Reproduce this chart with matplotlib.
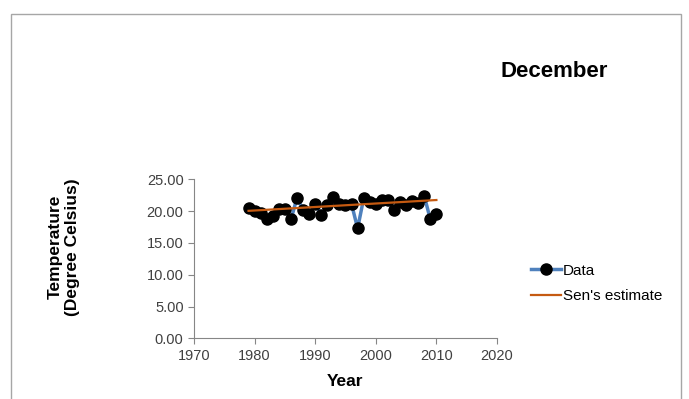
import matplotlib
matplotlib.use('Agg')
from matplotlib import pyplot as plt
from matplotlib.patches import Rectangle

plt.rcParams['font.family'] = ['Liberation Sans', 'DejaVu Sans']

# December mean temperature per year
years = [1979, 1980, 1981, 1982, 1983, 1984, 1985, 1986, 1987, 1988, 1989,
         1990, 1991, 1992, 1993, 1994, 1995, 1996, 1997, 1998, 1999, 2000,
         2001, 2002, 2003, 2004, 2005, 2006, 2007, 2008, 2009, 2010]
temps = [20.5, 20.1, 19.7, 18.7, 19.2, 20.4, 20.4, 18.7, 22.1, 20.2, 19.5,
         21.2, 19.4, 21.0, 22.2, 21.1, 20.9, 21.1, 17.3, 22.0, 21.5, 21.2,
         21.8, 21.7, 20.2, 21.5, 20.9, 21.6, 21.3, 22.4, 18.7, 19.5]

# Sen's slope trend line end points
sen_years = [1979, 2010]
sen_values = [20.05, 21.75]

x_ticks = [1970, 1980, 1990, 2000, 2010, 2020]
y_ticks = [0, 5, 10, 15, 20, 25]

fig = plt.figure(figsize=(6.89, 3.99), dpi=100)
ax = fig.add_axes([0.2816, 0.152, 0.4397, 0.3985])

# grey chart-area border
fig.patches.append(Rectangle((11 / 689, -0.1), 670 / 689, 1.1 - 14 / 399,
                             transform=fig.transFigure, fill=False,
                             edgecolor='#a6a6a6', linewidth=1.0))

ax.plot(years, temps, color='#4f81bd', linewidth=2.5, marker='o',
        markersize=8, markerfacecolor='black', markeredgecolor='black',
        label='Data', zorder=3)
ax.plot(sen_years, sen_values, color='#c55a11', linewidth=1.6,
        label="Sen's estimate", zorder=4)

ax.set_xlim(1970, 2020)
ax.set_ylim(0, 25)
ax.set_xticks(x_ticks)
ax.set_yticks(y_ticks)
ax.set_yticklabels(['%.2f' % v for v in y_ticks])

for side in ['top', 'right']:
    ax.spines[side].set_visible(False)
for side in ['left', 'bottom']:
    ax.spines[side].set_color('#868686')
ax.tick_params(axis='both', colors='#868686', labelcolor='#404040',
               labelsize=10.5, length=4, direction='out')

ax.set_xlabel('Year', fontsize=12.5, fontweight='bold', labelpad=8)
ax.set_ylabel('Temperature\n(Degree Celsius)', fontsize=12.5,
              fontweight='bold', labelpad=48)
ax.yaxis.label.set_y(0.574)

fig.text(0.805, 0.822, 'December', fontsize=16, fontweight='bold',
         ha='center', va='center')

fig.legend(loc='center left', bbox_to_anchor=(0.75, 0.29), frameon=False,
           fontsize=11, handlelength=2.0, handletextpad=0.1, labelspacing=0.75)

fig.savefig('out.png', dpi=100)
